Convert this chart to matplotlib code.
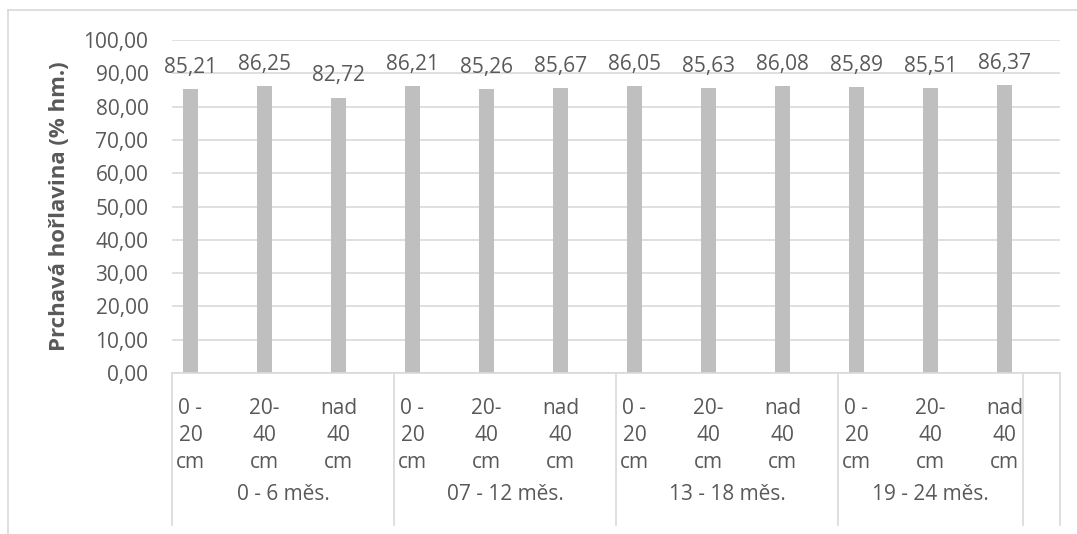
import numpy as np
import matplotlib
matplotlib.use('Agg')
from matplotlib import pyplot as plt
from matplotlib.lines import Line2D

# data
groups = ['0 - 6 měs.', '07 - 12 měs.', '13 - 18 měs.', '19 - 24 měs.']
depths = ['0 -\n20\ncm', '20-\n40\ncm', 'nad\n40\ncm']
values = [85.21, 86.25, 82.72, 86.21, 85.26, 85.67,
          86.05, 85.63, 86.08, 85.89, 85.51, 86.37]
y_ticks = [0, 10, 20, 30, 40, 50, 60, 70, 80, 90, 100]

plt.rcParams['font.family'] = ['Open Sans', 'DejaVu Sans']
txt = '#595959'
grid = '#d9d9d9'
fs = 15

W, H = 1077, 534
fig = plt.figure(figsize=(W / 100, H / 100), dpi=100)

# plot area in pixels
left, right, top, bottom = 172, 1060, 40, 373
ax = fig.add_axes([left / W, 1 - bottom / H, (right - left) / W, (bottom - top) / H])

n = len(values)
x = np.arange(n) + 0.25
ax.bar(x, values, width=0.19, color='#bfbfbf', zorder=2)
ax.set_xlim(0, 12)
ax.set_ylim(0, 100)

for xi, v in zip(x, values):
    ax.annotate(f'{v:.2f}'.replace('.', ','), (xi, v), xytext=(0, 8),
                textcoords='offset points', ha='center', va='bottom',
                fontsize=fs, color=txt)

ax.set_yticks(y_ticks)
ax.set_yticklabels([f'{t:.2f}'.replace('.', ',') for t in y_ticks], fontsize=fs, color=txt)
ax.tick_params(axis='y', length=0, pad=17)
ax.set_xticks([])
ax.yaxis.grid(True, color=grid, lw=1.2, zorder=0)
for s in ['top', 'right', 'left']:
    ax.spines[s].set_visible(False)
ax.spines['bottom'].set_color(grid)
ax.spines['bottom'].set_linewidth(1.2)

ax.set_ylabel('Prchavá hořlavina (% hm.)', fontsize=16, fontweight='bold',
              color=txt, labelpad=10)

# multi-level category axis
tr = ax.get_xaxis_transform()
depth_y = (bottom - 398) / (bottom - top)
group_y = (bottom - 494) / (bottom - top)
line_end = (bottom - 525) / (bottom - top)
for i, xi in enumerate(x):
    ax.text(xi, depth_y, depths[i % 3], transform=tr, ha='center', va='top',
            fontsize=fs, color=txt, linespacing=1.36)

bounds = [0, 3, 6, 9, 11.5, 12]
for b in bounds:
    ax.add_line(Line2D([b, b], [0, line_end], transform=tr, color=grid,
                       lw=1.2, clip_on=False))
for g in range(4):
    c = (bounds[g] + bounds[g + 1]) / 2
    ax.text(c, group_y, groups[g], transform=tr, ha='center', va='center',
            fontsize=fs, color=txt)

# chart area border (left and top edges visible)
fig.add_artist(Line2D([8 / W, 8 / W], [0, 1 - 10 / H], color=grid, lw=1.2))
fig.add_artist(Line2D([8 / W, 1], [1 - 10 / H, 1 - 10 / H], color=grid, lw=1.2))

fig.savefig('out.png', dpi=100)
